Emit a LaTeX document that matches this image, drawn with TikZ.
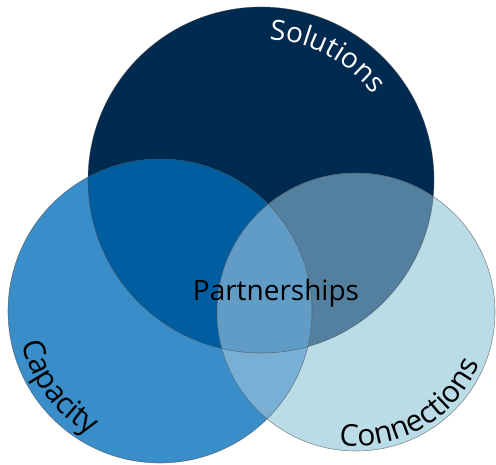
\documentclass[tikz,border=0pt]{standalone}
\usepackage{fontspec}
\setmainfont{Open Sans}
\usetikzlibrary{decorations.text}

\definecolor{solnavy}{RGB}{0,42,80}
\definecolor{capblue}{RGB}{57,141,201}
\definecolor{conblue}{RGB}{185,220,231}
\definecolor{solcap}{RGB}{0,93,159}
\definecolor{solcon}{RGB}{84,128,159}
\definecolor{capcon}{RGB}{120,175,212}
\definecolor{allthree}{RGB}{96,156,197}

\begin{document}
\begin{tikzpicture}[x=1pt,y=1pt]
  \pgfmathsetmacro{\CircRSol}{173}
  \pgfmathsetmacro{\CircRCap}{152}
  \pgfmathsetmacro{\CircRCon}{139}

  \useasboundingbox (0,0) rectangle (496,464);
  \coordinate (sol) at (261,284);
  \coordinate (cap) at (160,153);
  \coordinate (con) at (356,152);

  \fill[solnavy] (sol) circle (\CircRSol pt);
  \fill[capblue] (cap) circle (\CircRCap pt);
  \fill[conblue] (con) circle (\CircRCon pt);
  \begin{scope}
    \clip (sol) circle (\CircRSol pt);
    \fill[solcap] (cap) circle (\CircRCap pt);
    \fill[solcon] (con) circle (\CircRCon pt);
  \end{scope}
  \begin{scope}
    \clip (cap) circle (\CircRCap pt);
    \fill[capcon] (con) circle (\CircRCon pt);
  \end{scope}
  \begin{scope}
    \clip (sol) circle (\CircRSol pt);
    \clip (cap) circle (\CircRCap pt);
    \fill[allthree] (con) circle (\CircRCon pt);
  \end{scope}
  % outlines
  \draw[black!70, draw opacity=.6, line width=.6pt] (sol) circle (\CircRSol pt);
  \draw[black!70, draw opacity=.6, line width=.6pt] (cap) circle (\CircRCap pt);
  \draw[black!70, draw opacity=.6, line width=.6pt] (con) circle (\CircRCon pt);

  % curved labels
  \path[decorate, decoration={text along path, text align=center,
      text={|\fontsize{28}{28}\selectfont\color{white}|Solutions}}]
    ([shift=(112:141pt)]sol) arc (112:12:141pt);
  \path[decorate, decoration={text along path, text align=center,
      text={|\fontsize{30}{30}\selectfont|Capacity}}]
    ([shift=(160:142pt)]cap) arc (160:274:142pt);
  \path[decorate, decoration={text along path, text align=center,
      text={|\fontsize{30}{30}\selectfont|Connections}}]
    ([shift=(240:134pt)]con) arc (240:360:134pt);

  \node[anchor=base, font=\fontsize{28}{28}\selectfont] (part) at (276,163) {Partnerships};
\end{tikzpicture}
\end{document}
